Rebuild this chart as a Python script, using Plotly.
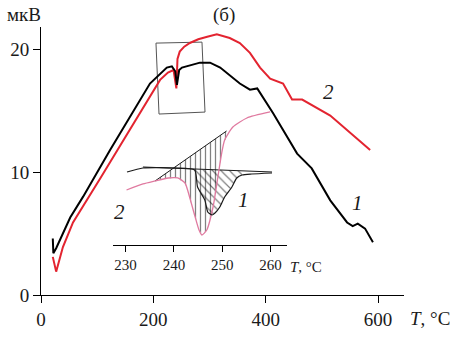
import numpy as np
import plotly.graph_objects as go

# ---- main chart data (T, °C ; signal, мкВ) ----
t1 = [21, 22, 27, 52, 75, 123, 194, 224, 233, 239, 242, 246, 251, 265, 283, 301, 319, 354,
      372, 385, 413, 456, 482, 515, 545, 555, 564, 577, 591]
v1 = [4.6, 3.4, 3.8, 6.3, 8.0, 11.8, 17.2, 18.5, 18.6, 18.2, 17.1, 18.3, 18.5, 18.7, 18.9, 18.9,
      18.5, 17.2, 16.7, 16.8, 14.8, 11.5, 10.3, 7.7, 5.9, 5.6, 5.8, 5.4, 4.3]

t2 = [21, 27, 39, 57, 107, 128, 212, 226, 236, 241, 243, 247, 255, 265, 280, 296, 313, 336,
      354, 372, 385, 390, 408, 425, 431, 447, 465, 515, 586]
v2 = [3.1, 1.9, 3.9, 5.9, 9.6, 11.2, 17.5, 18.1, 18.3, 16.8, 19.2, 19.8, 20.2, 20.5, 20.8, 21.0,
      21.2, 20.9, 20.5, 19.7, 18.9, 18.5, 17.6, 17.3, 17.2, 15.9, 15.9, 14.6, 11.8]

# zoom frame drawn on main chart
frame_t = [204.7, 286.6, 292.0, 210.1, 204.7]
frame_v = [20.49, 20.57, 14.88, 14.72, 20.49]

# ---- inset data (T, °C ; relative units) ----
it2 = [230.2, 233.6, 236.1, 238.8, 240.8, 242.3, 243.3, 244.4, 245.2, 245.8, 246.8, 248.1,
       249.1, 249.9, 250.5, 252.2, 255.1, 259.9]
iv2 = [5.5, 6.1, 6.4, 6.7, 6.7, 6.2, 4.7, 2.8, 1.5, 1.0, 1.5, 3.8, 6.8, 9.2, 10.5, 11.8, 12.7, 13.3]

it1 = [230.3, 233.6, 240.4, 244.3, 244.9, 246.4, 247.0, 247.9, 248.5, 249.5, 250.5, 252.0,
       253.0, 254.1, 256.1, 260.3]
iv1 = [7.3, 7.7, 7.7, 7.5, 5.8, 4.5, 3.3, 3.0, 3.2, 3.8, 4.8, 5.8, 6.7, 7.0, 7.1, 7.2]

base1_t = [233.6, 260.3]
base1_v = [7.8, 7.3]
tan2_t = [236.1, 250.9]
tan2_v = [6.4, 11.4]

x_ticks = [0, 200, 400, 600]
y_ticks = [0, 10, 20]
ix_ticks = [230, 240, 250, 260]

FONT = "Liberation Serif"
RED = "#e32430"
PINK = "#e07aa0"
INK = "#1a1a1a"

fig = go.Figure()

# hatched area for curve 2 (vertical hatching)
tt = np.linspace(tan2_t[0], tan2_t[1], 60)
up2 = np.interp(tt, tan2_t, tan2_v)
lo2 = np.interp(tt, it2, iv2)
fig.add_trace(go.Scatter(x=np.concatenate([tt, tt[::-1]]), y=np.concatenate([up2, lo2[::-1]]),
                         xaxis="x2", yaxis="y2", mode="lines", line=dict(width=0),
                         fill="toself", fillcolor="rgba(0,0,0,0)",
                         fillpattern=dict(shape="|", fgcolor="black", size=5, solidity=0.25),
                         hoverinfo="skip", showlegend=False))
# hatched area for curve 1 (diagonal hatching)
tt1 = np.linspace(244.3, 254.1, 50)
up1 = np.interp(tt1, base1_t, base1_v)
lo1 = np.interp(tt1, it1, iv1)
fig.add_trace(go.Scatter(x=np.concatenate([tt1, tt1[::-1]]), y=np.concatenate([up1, lo1[::-1]]),
                         xaxis="x2", yaxis="y2", mode="lines", line=dict(width=0),
                         fill="toself", fillcolor="rgba(0,0,0,0)",
                         fillpattern=dict(shape="\\", fgcolor="black", size=6, solidity=0.2),
                         hoverinfo="skip", showlegend=False))

fig.add_trace(go.Scatter(x=tan2_t, y=tan2_v, xaxis="x2", yaxis="y2", mode="lines",
                         line=dict(color=INK, width=1), showlegend=False))
fig.add_trace(go.Scatter(x=base1_t, y=base1_v, xaxis="x2", yaxis="y2", mode="lines",
                         line=dict(color=INK, width=1), showlegend=False))
fig.add_trace(go.Scatter(x=it2, y=iv2, xaxis="x2", yaxis="y2", mode="lines",
                         line=dict(color=PINK, width=1.3, shape="spline", smoothing=0.6), showlegend=False))
fig.add_trace(go.Scatter(x=it1, y=iv1, xaxis="x2", yaxis="y2", mode="lines",
                         line=dict(color=INK, width=1.2, shape="spline", smoothing=0.6), showlegend=False))

# main curves
fig.add_trace(go.Scatter(x=frame_t, y=frame_v, mode="lines",
                         line=dict(color="#555", width=1), showlegend=False))
fig.add_trace(go.Scatter(x=t2, y=v2, mode="lines", line=dict(color=RED, width=2), showlegend=False))
fig.add_trace(go.Scatter(x=t1, y=v1, mode="lines", line=dict(color="black", width=2), showlegend=False))

axis_common = dict(showline=True, linecolor="black", linewidth=1, ticks="outside",
                   tickcolor="black", showgrid=False, zeroline=False, automargin=False)

fig.update_layout(
    width=465, height=338,
    margin=dict(l=41, r=61, t=27, b=43),
    paper_bgcolor="white", plot_bgcolor="rgba(0,0,0,0)",
    font=dict(family=FONT, color=INK),
    xaxis=dict(range=[0, 646.3], tickvals=x_ticks, ticklen=7, tickfont=dict(size=19), **axis_common),
    yaxis=dict(range=[0, 21.8], tickvals=y_ticks, ticklen=7, tickfont=dict(size=19), **axis_common),
    xaxis2=dict(domain=[0.1983, 0.6777], anchor="y2", range=[227.4, 263.4], tickvals=ix_ticks,
                ticklen=6, tickfont=dict(size=15), **axis_common),
    yaxis2=dict(domain=[0.1866, 0.709], anchor="x2", range=[0, 14], visible=False),
    showlegend=False,
)

ann = [
    dict(text="мкВ", xref="paper", yref="paper", x=-0.047, y=1.045, font=dict(size=19)),
    dict(text="(б)", xref="paper", yref="paper", x=0.504, y=1.045, font=dict(size=19)),
    dict(text="<i>T</i>, °C", xref="paper", yref="paper", x=1.011, y=-0.086, xanchor="left",
         font=dict(size=19)),
    dict(text="<i>T</i>, °C", xref="paper", yref="paper", x=0.680, y=0.1045, xanchor="left",
         font=dict(size=15)),
    dict(text="<i>2</i>", xref="x", yref="y", x=512.7, y=16.5, font=dict(size=21)),
    dict(text="<i>1</i>", xref="x", yref="y", x=564, y=7.5, font=dict(size=21)),
    dict(text="<i>2</i>", xref="x2", yref="y2", x=228.8, y=3.3, font=dict(size=21)),
    dict(text="<i>1</i>", xref="x2", yref="y2", x=254.3, y=4.5, font=dict(size=21)),
]
for a in ann:
    a.setdefault("xanchor", "center")
    a["yanchor"] = "middle"
    a["showarrow"] = False
    fig.add_annotation(**a)

# remove the default page margin so the figure sits at the window's top-left corner
fig.write_html("out.html", config={"displayModeBar": False},
               post_script="document.body.style.margin='0';document.body.style.overflow='hidden';")
